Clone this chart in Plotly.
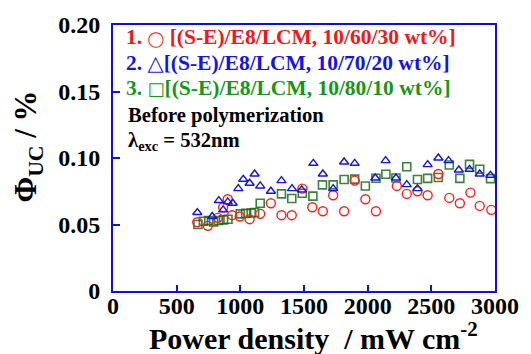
import plotly.graph_objects as go

# ---- data ----
red_x = [662, 745, 823, 865, 901, 935, 995, 1073, 1156, 1240, 1323, 1404, 1487, 1565, 1648,
         1729, 1815, 1898, 1982, 2065, 2229, 2307, 2391, 2471, 2555, 2641, 2724, 2807, 2880, 2971]
red_y = [0.0517, 0.049, 0.055, 0.063, 0.069, 0.057, 0.056, 0.054, 0.058, 0.066, 0.057, 0.057, 0.077, 0.063, 0.060,
         0.072, 0.060, 0.083, 0.069, 0.060, 0.079, 0.073, 0.075, 0.072, 0.088, 0.070, 0.066, 0.074, 0.064, 0.061]

blue_x = [662, 779, 831, 865, 901, 940, 984, 1023, 1073, 1112, 1156, 1240, 1323, 1406, 1482, 1573, 1648,
          1729, 1815, 1898, 2060, 2141, 2222, 2307, 2391, 2471, 2555, 2635, 2716, 2800, 2880, 2964]
blue_y = [0.059, 0.056, 0.068, 0.061, 0.067, 0.066, 0.077, 0.084, 0.081, 0.088, 0.079, 0.075, 0.083, 0.077, 0.076, 0.096, 0.088,
          0.077, 0.097, 0.096, 0.085, 0.098, 0.085, 0.080, 0.077, 0.095, 0.100, 0.098, 0.091, 0.0915, 0.088, 0.087]

green_x = [667, 710, 752, 790, 828, 868, 903, 1000, 1042, 1085, 1112, 1156, 1323, 1404, 1487, 1570, 1645,
           1729, 1815, 1898, 1982, 2065, 2143, 2222, 2307, 2391, 2471, 2555, 2641, 2724, 2800, 2880, 2965]
green_y = [0.050, 0.0525, 0.053, 0.052, 0.053, 0.0535, 0.054, 0.058, 0.0584, 0.0587, 0.059, 0.066, 0.073, 0.0696, 0.0735, 0.0713, 0.0798,
           0.0798, 0.0838, 0.0841, 0.079, 0.0848, 0.0878, 0.0850, 0.0934, 0.0838, 0.0847, 0.0853, 0.0947, 0.0847, 0.0952, 0.0915, 0.0845]

x_ticks = [0, 500, 1000, 1500, 2000, 2500, 3000]
x_tick_text = ["0", "500", "1000", "1500", "2000", "2500", "3000"]
y_ticks = [0, 0.05, 0.10, 0.15, 0.20]
y_tick_text = ["0", "0.05", "0.10", "0.15", "0.20"]

legend_prefix = ["1. ", "2. ", "3. "]
legend_symbol = ["\u25EF", "\u25B3", "\u25A1"]
legend_gap = [" ", "", ""]
legend_label = ["[(S-E)/E8/LCM, 10/60/30 wt%]", "[(S-E)/E8/LCM, 10/70/20 wt%]", "[(S-E)/E8/LCM, 10/80/10 wt%]"]
legend_color = ["#f01818", "#1414e6", "#179617"]

FONT = "Liberation Serif, Times New Roman, serif"
AX = "#1010e0"

fig = go.Figure()
fig.add_trace(go.Scatter(x=green_x, y=green_y, mode="markers",
                         marker=dict(symbol="square-open", size=8,
                                     line=dict(color="rgba(10,100,10,0.8)", width=1.6),
                                     color="rgba(10,100,10,0.8)")))
fig.add_trace(go.Scatter(x=red_x, y=red_y, mode="markers",
                         marker=dict(symbol="circle-open", size=9,
                                     line=dict(color="#ff2020", width=1.4), color="#ff2020")))
fig.add_trace(go.Scatter(x=blue_x, y=blue_y, mode="markers",
                         marker=dict(symbol="triangle-up-open", size=8,
                                     line=dict(color="#1414e6", width=1.4), color="#1414e6")))

L, R, T, B = 113, 34, 23, 63
W, H = 531, 354
pw, ph = W - L - R, H - T - B

def px_x(p):
    return (p - L) / pw

def px_y(p):
    return (H - B - p) / ph

ann = []
ys = [35.5, 61, 86.5]
sym_sizes = [15, 21, 18]
for i, yy in enumerate(ys):
    txt = ("<b>" + legend_prefix[i] + "</b>"
           + "<span style='font-family:DejaVu Sans;font-size:%dpx;font-weight:normal'>%s</span>" % (sym_sizes[i], legend_symbol[i])
           + "<b>" + legend_gap[i] + legend_label[i] + "</b>")
    ann.append(dict(text=txt, x=px_x(124), y=px_y(yy), xref="paper", yref="paper",
                    xanchor="left", yanchor="middle", showarrow=False,
                    font=dict(family=FONT, size=21.5, color=legend_color[i])))
ann.append(dict(text="<b>Before polymerization</b>", x=px_x(126), y=px_y(114.5), xref="paper", yref="paper",
                xanchor="left", yanchor="middle", showarrow=False,
                font=dict(family=FONT, size=20.6, color="black")))
ann.append(dict(text="<b>\u03BB<sub>exc</sub> = 532nm</b>", x=px_x(126), y=px_y(140), xref="paper", yref="paper",
                xanchor="left", yanchor="middle", showarrow=False,
                font=dict(family=FONT, size=20.6, color="black")))
# axis titles
ann.append(dict(text="<b>Power density  / mW cm<sup>-2</sup></b>", x=px_x(315), y=px_y(336),
                xref="paper", yref="paper", xanchor="center", yanchor="middle", showarrow=False,
                font=dict(family=FONT, size=30, color="black")))
ann.append(dict(text="<b>\u03A6<sub>UC</sub> / %</b>", x=px_x(28), y=px_y(145),
                xref="paper", yref="paper", xanchor="center", yanchor="middle", showarrow=False,
                textangle=-90, font=dict(family=FONT, size=31, color="black")))

fig.update_layout(
    width=W, height=H,
    margin=dict(l=L, r=R, t=T, b=B, pad=0),
    paper_bgcolor="white", plot_bgcolor="white",
    showlegend=False,
    annotations=ann,
    xaxis=dict(range=[0, 3000], tickvals=x_ticks, ticktext=["<b>" + t + "</b>" for t in x_tick_text],
               ticks="inside", ticklen=6, tickwidth=2,
               tickcolor=AX, showline=True, linecolor=AX, linewidth=2, mirror=True,
               showgrid=False, zeroline=False, ticklabelstandoff=-8,
               tickfont=dict(family=FONT, size=24, color="black")),
    yaxis=dict(range=[0, 0.20], tickvals=y_ticks, ticktext=["<b>" + t + "</b>" for t in y_tick_text],
               ticks="inside", ticklen=7,
               tickwidth=2, tickcolor=AX, showline=True, linecolor=AX, linewidth=2, mirror=True,
               showgrid=False, zeroline=False, ticklabelstandoff=6,
               tickfont=dict(family=FONT, size=24, color="black")),
)

fig.write_html("out.html")
